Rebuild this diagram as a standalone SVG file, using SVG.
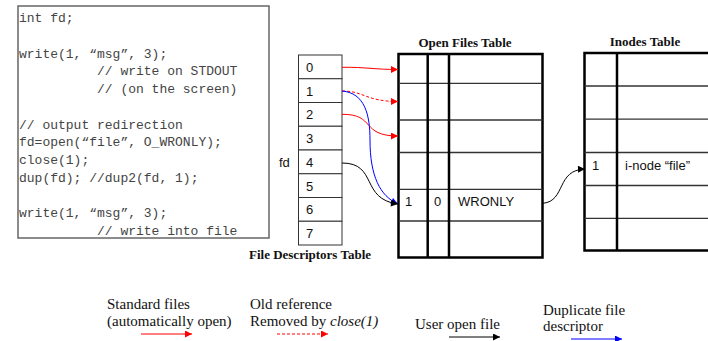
<svg xmlns="http://www.w3.org/2000/svg" width="708" height="341" viewBox="0 0 708 341">
<style>
.code{font-family:"Liberation Mono","Courier New",monospace;font-size:13px;fill:#444}
.cell{font-family:"Liberation Sans",Arial,sans-serif;font-size:13px;fill:#111}
.title{font-family:"Liberation Serif","Times New Roman",serif;font-size:13px;font-weight:bold;fill:#111}
.leg{font-family:"Liberation Serif","Times New Roman",serif;font-size:15px;fill:#111}
.fdcell{fill:#fff;stroke:#333;stroke-width:1}
.outer{fill:#fff;stroke:#000;stroke-width:2.5}
.col{stroke:#000;stroke-width:2.5}
.row{stroke:#333;stroke-width:1.3}
.red{fill:none;stroke:#f00;stroke-width:1}
.blue{fill:none;stroke:#00f;stroke-width:1}
.blk{fill:none;stroke:#000;stroke-width:1}
.dash{stroke-dasharray:3,2}
</style>
<defs>
<marker id="ar" viewBox="0 0 10 10" refX="10" refY="5" markerWidth="8" markerHeight="7" markerUnits="userSpaceOnUse" orient="auto"><path d="M0,0L10,5L0,10z" fill="#f00"/></marker>
<marker id="ab" viewBox="0 0 10 10" refX="10" refY="5" markerWidth="8" markerHeight="7" markerUnits="userSpaceOnUse" orient="auto"><path d="M0,0L10,5L0,10z" fill="#00f"/></marker>
<marker id="ak" viewBox="0 0 10 10" refX="10" refY="5" markerWidth="8" markerHeight="7" markerUnits="userSpaceOnUse" orient="auto"><path d="M0,0L10,5L0,10z" fill="#000"/></marker>
</defs>

<g id="code">
<rect x="18" y="6" width="251" height="232" fill="#fff" stroke="#666" stroke-width="1.5"/>
<text class="code" x="19" y="22">int fd;</text>
<text class="code" x="19" y="57.5">write(1, “msg”, 3);</text>
<text class="code" x="97" y="75.3">// write on STDOUT</text>
<text class="code" x="97" y="93">// (on the screen)</text>
<text class="code" x="19" y="128.5">// output redirection</text>
<text class="code" x="19" y="146.3">fd=open(“file”, O_WRONLY);</text>
<text class="code" x="19" y="164">close(1);</text>
<text class="code" x="19" y="181.8">dup(fd); //dup2(fd, 1);</text>
<text class="code" x="19" y="217.3">write(1, “msg”, 3);</text>
<text class="code" x="97" y="235">// write into file</text>
</g>

<g id="fd-table">
<rect class="fdcell" x="298.5" y="55" width="43.5" height="23.75"/>
<rect class="fdcell" x="298.5" y="78.75" width="43.5" height="23.75"/>
<rect class="fdcell" x="298.5" y="102.5" width="43.5" height="23.75"/>
<rect class="fdcell" x="298.5" y="126.25" width="43.5" height="23.75"/>
<rect class="fdcell" x="298.5" y="150" width="43.5" height="23.75"/>
<rect class="fdcell" x="298.5" y="173.75" width="43.5" height="23.75"/>
<rect class="fdcell" x="298.5" y="197.5" width="43.5" height="23.75"/>
<rect class="fdcell" x="298.5" y="221.25" width="43.5" height="23.75"/>
<text class="cell" x="306" y="72">0</text>
<text class="cell" x="306" y="95.5">1</text>
<text class="cell" x="306" y="119.3">2</text>
<text class="cell" x="306" y="143">3</text>
<text class="cell" x="306" y="166.8">4</text>
<text class="cell" x="306" y="190.5">5</text>
<text class="cell" x="306" y="214.3">6</text>
<text class="cell" x="306" y="238">7</text>
<text class="cell" x="279" y="167">fd</text>
<text class="title" x="310" y="259" text-anchor="middle">File Descriptors Table</text>
</g>

<g id="open-files-table">
<text class="title" x="465" y="47" text-anchor="middle">Open Files Table</text>
<rect class="outer" x="398.5" y="54" width="144" height="203.5"/>
<line class="row" x1="398.5" y1="83.3" x2="542.5" y2="83.3"/>
<line class="row" x1="398.5" y1="120" x2="542.5" y2="120"/>
<line class="row" x1="398.5" y1="152.5" x2="542.5" y2="152.5"/>
<line class="row" x1="398.5" y1="189.3" x2="542.5" y2="189.3"/>
<line class="row" x1="398.5" y1="221" x2="542.5" y2="221"/>
<line class="col" x1="427.7" y1="54" x2="427.7" y2="257.5"/>
<line class="col" x1="449" y1="54" x2="449" y2="257.5"/>
<text class="cell" x="405" y="206">1</text>
<text class="cell" x="434" y="206">0</text>
<text class="cell" x="458" y="206">WRONLY</text>
</g>

<g id="inodes-table">
<text class="title" x="645" y="46" text-anchor="middle">Inodes Table</text>
<rect class="outer" x="584.5" y="53" width="140" height="197.5"/>
<line class="row" x1="584.5" y1="86" x2="724" y2="86"/>
<line class="row" x1="584.5" y1="119.2" x2="724" y2="119.2"/>
<line class="row" x1="584.5" y1="152.5" x2="724" y2="152.5"/>
<line class="row" x1="584.5" y1="185.5" x2="724" y2="185.5"/>
<line class="row" x1="584.5" y1="218.3" x2="724" y2="218.3"/>
<line class="col" x1="617" y1="53" x2="617" y2="250.5"/>
<text class="cell" x="592" y="170">1</text>
<text class="cell" x="625" y="170">i-node “file”</text>
</g>

<g id="connectors">
<path class="red" d="M342,67.3 C366,67 374,69.5 398,69.5" marker-end="url(#ar)"/>
<path class="red dash" d="M342,91 C364,91 366,101.5 398,101.5" marker-end="url(#ar)"/>
<path class="red" d="M342,114.3 C376,114 360,136 398,136" marker-end="url(#ar)"/>
<path class="blue" d="M342,91 C365,93 370,115 370,140 C370,176 380,196 398,204" marker-end="url(#ab)"/>
<path class="blk" d="M342,163 C378,163 360,199 398,204" marker-end="url(#ak)"/>
<path class="blk" d="M543,203.3 C566,201 556,170 585,169" marker-end="url(#ak)"/>
</g>

<g id="legend">
<text class="leg" x="107" y="309">Standard files</text>
<text class="leg" x="107" y="326">(automatically open)</text>
<line class="red" x1="141" y1="334" x2="192" y2="334" marker-end="url(#ar)"/>
<text class="leg" x="250" y="309">Old reference</text>
<text class="leg" x="250" y="326">Removed by <tspan font-style="italic">close(1)</tspan></text>
<line class="red dash" x1="277" y1="334" x2="328" y2="334" marker-end="url(#ar)"/>
<text class="leg" x="415" y="329">User open file</text>
<line class="blk" x1="449" y1="337" x2="500" y2="337" marker-end="url(#ak)"/>
<text class="leg" x="543" y="315">Duplicate file</text>
<text class="leg" x="543" y="331">descriptor</text>
<line class="blue" x1="571" y1="339" x2="622" y2="339" marker-end="url(#ab)"/>
</g>
</svg>
